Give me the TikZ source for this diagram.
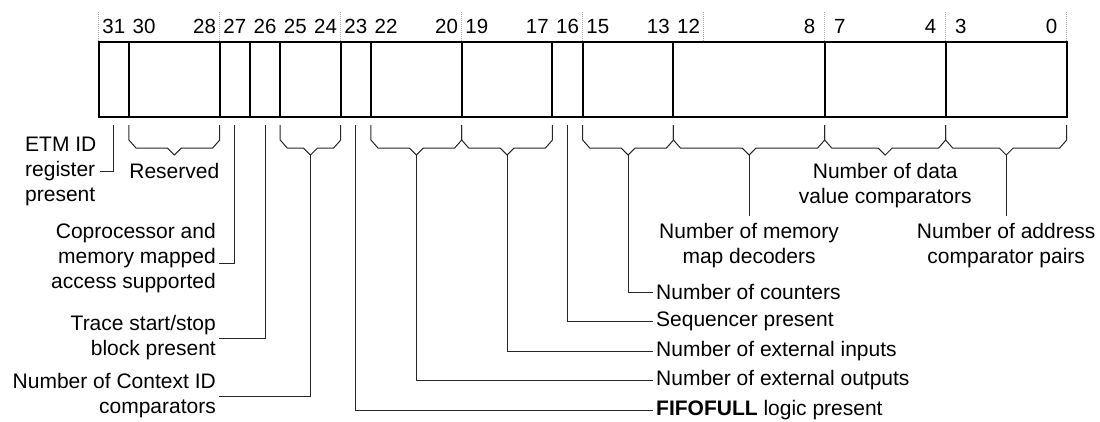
\documentclass[tikz,border=0pt]{standalone}
\usepackage{fontspec}
\setmainfont{Liberation Sans}
\newcommand\fbrace[3]{% left x, right x, tip name
  \draw[brc] (#1,125) -- (#1,140) -- ({#1+7},148) -- ({(#1+#2)/2-7},148) -- ({(#1+#2)/2},155) coordinate (#3) -- ({(#1+#2)/2+7},148) -- ({#2-7},148) -- (#2,140) -- (#2,125);}
\begin{document}
\begin{tikzpicture}[x=1pt,y=-1pt,
  field/.style={draw, line width=2pt, inner sep=0pt, outer sep=0pt, minimum height=75.6pt, anchor=north west},
  brc/.style={line width=1pt, black!85, line join=miter},
  conn/.style={line width=1pt, black!85},
  nib/.style={gray!70, line width=0.7pt, dash pattern=on 1pt off 1pt},
  bitno/.style={font=\fontsize{20.5}{24}\selectfont, anchor=base, inner sep=0pt},
  lbl/.style={font=\fontsize{21}{25}\selectfont, inner sep=3pt},
]
\useasboundingbox (0,0) rectangle (1100,421);
% nibble separators
\foreach \x in {98.7,219.7,340.7,461.7,582.7,703.7,824.7,945.7,1066.7}
  \draw[nib] (\x,12) -- (\x,41.7);
% bit numbers
\foreach \b in {31,30,28,27,26,25,24,23,22,20,19,17,16,15,13,12,8,7,4,3,0}
  \node[bitno] (n\b) at ({113.825+(31-\b)*30.25},33.3) {\b};
% fields
\foreach \hi/\lo/\nm in {31/31/f31,30/28/f30,27/27/f27,26/26/f26,25/24/f25,23/23/f23,22/20/f22,19/17/f19,16/16/f16,15/13/f15,12/8/f12,7/4/f7,3/0/f3}
  \node[field, minimum width={(\hi-\lo+1)*30.25pt}] (\nm) at ({98.7+(31-\hi)*30.25},41.7) {};
% single-bit stems
\coordinate (s31) at (113.825,125);
\coordinate (s27) at (234.825,125);
\coordinate (s26) at (265.075,125);
\coordinate (s23) at (355.825,125);
\coordinate (s16) at (567.575,125);
% braces
\fbrace{128.95}{219.7}{t30}
\fbrace{280.2}{340.7}{t25}
\fbrace{370.95}{461.7}{t22}
\fbrace{461.7}{552.45}{t19}
\fbrace{582.7}{673.45}{t15}
\fbrace{673.45}{824.7}{t12}
\fbrace{824.7}{945.7}{t7}
\fbrace{945.7}{1066.7}{t3}
% labels
\node[lbl, align=left, anchor=west] (etm) at (22,171) {ETM ID\\register\\present};
\node[lbl, anchor=north] (res) at (174.3,160) {Reserved};
\node[lbl, align=right, anchor=east] (cop) at (219,258) {Coprocessor and\\memory mapped\\access supported};
\node[lbl, align=right, anchor=east] (trace) at (219,338) {Trace start/stop\\block present};
\node[lbl, align=right, anchor=east] (ctx) at (219,396) {Number of Context ID\\comparators};
\node[lbl, anchor=west] (cnt) at (653,292) {Number of counters};
\node[lbl, anchor=west] (seq) at (653,321.5) {Sequencer present};
\node[lbl, anchor=west] (inp) at (653,351) {Number of external inputs};
\node[lbl, anchor=west] (out) at (653,380.5) {Number of external outputs};
\node[lbl, anchor=west] (fifo) at (653,410) {\textbf{FIFOFULL} logic present};
\node[lbl, align=center, anchor=north] (data) at (885.2,160) {Number of data\\value comparators};
\node[lbl, align=center, anchor=north] (mem) at (749.075,220) {Number of memory\\map decoders};
\node[lbl, align=center, anchor=north] (addr) at (1006.2,220) {Number of address\\comparator pairs};
% connectors
\draw[conn] (s31) |- (etm.east);
\draw[conn] (s27) |- ([yshift=-5.5pt]cop.east);
\draw[conn] (s26) |- (trace.east);
\draw[conn] (t25) |- (ctx.east);
\draw[conn] (s23) |- (fifo.west);
\draw[conn] (t22) |- (out.west);
\draw[conn] (t19) |- (inp.west);
\draw[conn] (s16) |- (seq.west);
\draw[conn] (t15) |- (cnt.west);
\draw[conn, shorten >=4pt] (t12) -- (mem.north);
\draw[conn, shorten >=4pt] (t3) -- (addr.north);
\end{tikzpicture}
\end{document}
